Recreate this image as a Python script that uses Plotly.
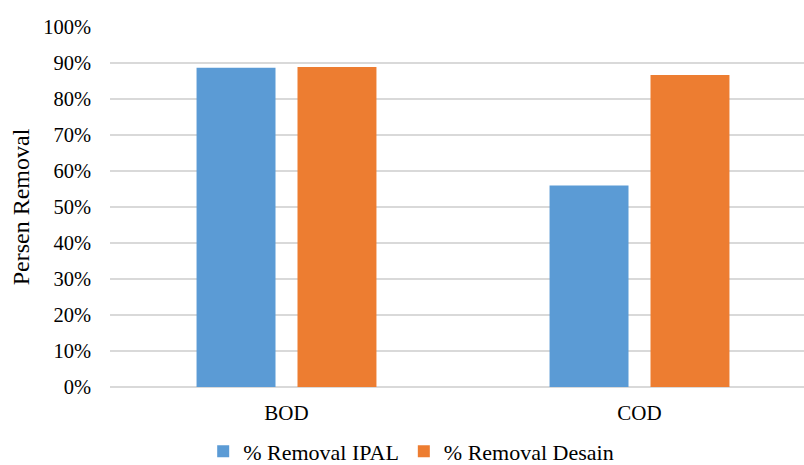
import plotly.graph_objects as go

categories = ["BOD", "COD"]
removal_ipal = [88.7, 56.0]
removal_desain = [88.9, 86.7]
series_names = ["% Removal IPAL", "% Removal Desain"]
y_ticks = [0, 10, 20, 30, 40, 50, 60, 70, 80, 90, 100]
y_tick_labels = [f"{v}%" for v in y_ticks]

FONT = "Liberation Serif"

fig = go.Figure()
fig.add_trace(go.Bar(x=categories, y=removal_ipal, name=series_names[0],
                     marker=dict(color="#5b9bd5", line=dict(width=0))))
fig.add_trace(go.Bar(x=categories, y=removal_desain, name=series_names[1],
                     marker=dict(color="#ed7d31", line=dict(width=0))))

fig.update_layout(
    width=804, height=465,
    margin=dict(l=110, r=0, t=27, b=78, autoexpand=False),
    paper_bgcolor="white", plot_bgcolor="white",
    barmode="group", bargap=0.428, bargroupgap=0.218,
    font=dict(family=FONT, size=20, color="#000000"),
    showlegend=True,
    legend=dict(orientation="h", xref="paper", x=0.434, xanchor="center",
                yref="paper", y=-0.179, yanchor="middle",
                font=dict(family=FONT, size=22, color="#000000"), itemwidth=30,
                bgcolor="rgba(0,0,0,0)"),
    xaxis=dict(range=[-0.5, 1.466], showgrid=False, showline=False, zeroline=False,
               ticks="", ticklabelstandoff=11, tickfont=dict(family=FONT, size=21)),
    yaxis=dict(range=[0, 100], tickvals=y_ticks, ticktext=y_tick_labels,
               showgrid=True, gridcolor="#d9d9d9", gridwidth=1.5,
               zeroline=True, zerolinecolor="#d9d9d9", zerolinewidth=1.5,
               showline=False, ticks="", ticklabelstandoff=18,
               tickfont=dict(family=FONT, size=20.5),
               title=dict(text="Persen Removal", font=dict(family=FONT, size=24), standoff=6)),
)

fig.write_html("out.html")
